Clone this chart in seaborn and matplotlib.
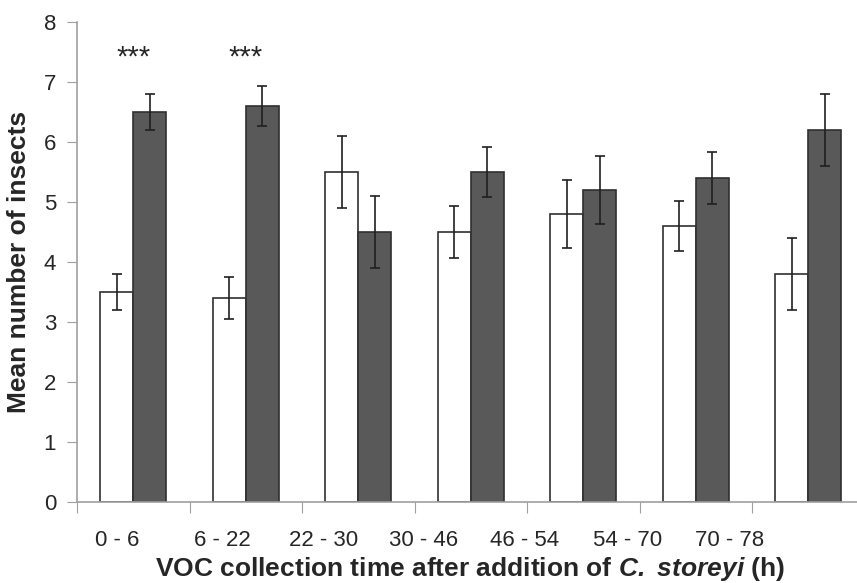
import numpy as np
import pandas as pd
import seaborn as sns
import matplotlib.pyplot as plt

periods = ["0 - 6", "6 - 22", "22 - 30", "30 - 46", "46 - 54", "54 - 70", "70 - 78"]
control = [3.5, 3.4, 5.5, 4.5, 4.8, 4.6, 3.8]
control_err = [0.3, 0.35, 0.6, 0.43, 0.57, 0.42, 0.6]
treated = [6.5, 6.6, 4.5, 5.5, 5.2, 5.4, 6.2]
treated_err = [0.3, 0.33, 0.6, 0.42, 0.57, 0.43, 0.6]
stars = ["***", "***", "", "", "", "", ""]

df = pd.DataFrame({
    "period": periods * 2,
    "group": ["control"] * len(periods) + ["treated"] * len(periods),
    "mean": control + treated,
})

sns.set_style("white")
plt.rcParams["font.family"] = ["Liberation Sans", "DejaVu Sans"]
plt.rcParams["mathtext.fontset"] = "custom"
plt.rcParams["mathtext.bfit"] = "Liberation Sans:italic:bold"
plt.rcParams["mathtext.rm"] = "Liberation Sans:bold"

fig = plt.figure(figsize=(8.57, 5.83), dpi=100)
ax = fig.add_axes([77 / 857, 1 - 502 / 583, 787.5 / 857, 480 / 583])

sns.barplot(data=df, x="period", y="mean", hue="group", order=periods,
            palette={"control": "white", "treated": "#595959"},
            width=0.587, gap=0, errorbar=None, edgecolor="#303030",
            linewidth=1.2, legend=False, ax=ax)

# error bars on top of each bar
errs = control_err + treated_err
for patch, e in zip(ax.patches, errs):
    xc = patch.get_x() + patch.get_width() / 2
    ax.errorbar(xc, patch.get_height(), yerr=e, color="#202020",
                elinewidth=1.2, capsize=3.5, capthick=1.2)

for i, s in enumerate(stars):
    if s:
        ax.text(i, 7.4, s, ha="center", va="center", fontsize=21)

ax.set_xlim(-0.5, len(periods) - 0.5)
ax.set_ylim(0, 8)
ax.set_yticks(range(0, 9))
ax.tick_params(axis="y", left=True, length=7, color="#a0a0a0", labelsize=16, pad=8)

ax.set_xticks(np.arange(len(periods)) - 0.5)
ax.set_xticklabels([])
ax.tick_params(axis="x", bottom=True, length=8, color="#a0a0a0")

# category labels as drawn in the original (shifted left progressively)
label_x = [-0.14, 0.79, 1.69, 2.58, 3.48, 4.39, 5.30]
for x, lab in zip(label_x, periods):
    ax.text(x, -0.64, lab, ha="center", va="center", fontsize=16)

for side in ["top", "right"]:
    ax.spines[side].set_visible(False)
for side in ["left", "bottom"]:
    ax.spines[side].set_color("#a0a0a0")
    ax.spines[side].set_linewidth(1.2)

ax.set_ylabel("Mean number of insects", fontsize=19, fontweight="bold", labelpad=9)
ax.set_xlabel("")
fig.text(470 / 857, 1 - 569 / 583,
         r"VOC collection time after addition of $\bfit{C.}$ $\bfit{storeyi}$ (h)",
         ha="center", va="center", fontsize=19, fontweight="bold")

fig.savefig("out.png", dpi=100)
